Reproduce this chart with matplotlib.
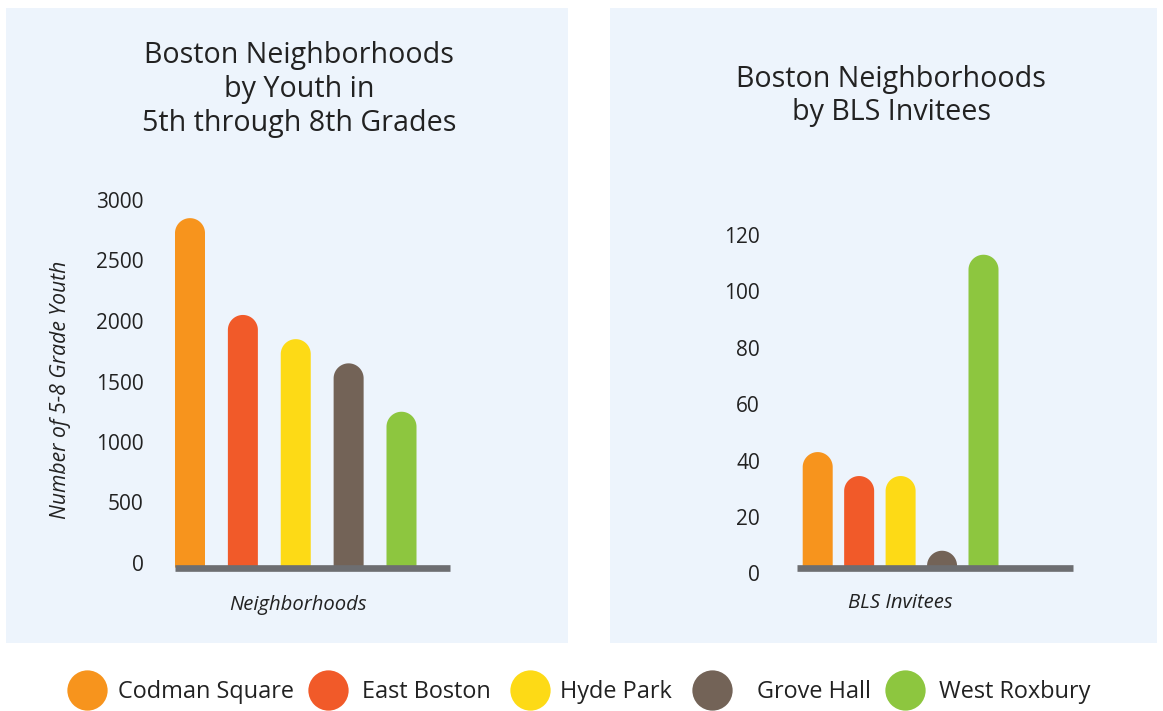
import matplotlib
matplotlib.use("Agg")
import numpy as np
import matplotlib.pyplot as plt
from matplotlib.patches import Rectangle, PathPatch
from matplotlib.path import Path

# ---------------- data ----------------
neighborhoods = ["Codman Square", "East Boston", "Hyde Park", "Grove Hall", "West Roxbury"]
youth_counts = [2850, 2050, 1850, 1650, 1250]
bls_invitees = [43, 34.5, 34.5, 8, 113]
youth_ticks = [0, 500, 1000, 1500, 2000, 2500, 3000]
bls_ticks = [0, 20, 40, 60, 80, 100, 120]
colors = ["#F7941D", "#F15A29", "#FDDA16", "#736357", "#8DC63F"]

W, H = 1163, 711
FONT = "Open Sans"
TXT = "#222222"
PANEL = "#EDF4FC"
BASE = "#6D6E71"

fig = plt.figure(figsize=(W / 100, H / 100), dpi=100)
fig.patch.set_facecolor("white")


def rect_px(x0, y0, x1, y1):
    return [x0 / W, 1 - y1 / H, (x1 - x0) / W, (y1 - y0) / H]


# panel backgrounds
for (x0, y0, x1, y1) in [(6, 8, 568, 643), (610, 8, 1157, 643)]:
    fig.patches.append(Rectangle((x0 / W, 1 - y1 / H), (x1 - x0) / W, (y1 - y0) / H,
                                 transform=fig.transFigure, facecolor=PANEL,
                                 edgecolor="none", zorder=-10))


def rounded_bars(ax, values, width, base_off_px, r_px=15):
    fig.canvas.draw()
    y0, y1 = ax.get_ylim()
    ppu = ax.bbox.height / (y1 - y0)
    r = r_px / ppu
    bottom = -base_off_px / ppu
    t = np.linspace(0, np.pi, 60)
    for i, (v, c) in enumerate(zip(values, colors)):
        cy = v - r
        hw = width / 2
        xs = np.concatenate([[i - hw], i + hw * np.cos(t[::-1]), [i + hw, i - hw]])
        ys = np.concatenate([[bottom], cy + r * np.sin(t[::-1]), [bottom, bottom]])
        # path: bottom-left -> up left side -> arc -> down right side -> close
        verts = np.column_stack([xs, ys])
        codes = [Path.MOVETO] + [Path.LINETO] * (len(verts) - 2) + [Path.CLOSEPOLY]
        patch = PathPatch(Path(verts, codes), facecolor=c, edgecolor="none",
                          clip_on=False, zorder=2, snap=False)
        ax.add_patch(patch)
    ax.plot([0, 1], [bottom, bottom], transform=ax.get_yaxis_transform(),
            color=BASE, lw=4.8, solid_capstyle="butt", clip_on=False, zorder=3)


def style_axis(ax, ticks, pad):
    ax.set_facecolor("none")
    for s in ax.spines.values():
        s.set_visible(False)
    ax.set_xticks([])
    ax.set_yticks(ticks)
    ax.set_yticklabels([str(t) for t in ticks], fontfamily=FONT, fontsize=15, color=TXT)
    ax.tick_params(axis="y", length=0, pad=pad)


# left chart
ax1 = fig.add_axes(rect_px(175, 200, 450, 563), zorder=2)
ax1.set_ylim(youth_ticks[0], youth_ticks[-1])
sp1 = (401.5 - 190) / 4
ax1.set_xlim((175 - 190) / sp1, (450 - 190) / sp1)
style_axis(ax1, youth_ticks, 22.5)
rounded_bars(ax1, youth_counts, 30 / sp1, 4.6)

# right chart
ax2 = fig.add_axes(rect_px(797, 235, 1073, 573.3), zorder=2)
ax2.set_ylim(bls_ticks[0], bls_ticks[-1])
sp2 = (983.5 - 817.7) / 4
ax2.set_xlim((797 - 817.7) / sp2, (1073 - 817.7) / sp2)
style_axis(ax2, bls_ticks, 26.6)
rounded_bars(ax2, bls_invitees, 30 / sp2, -5.6)


def ftext(x, y, s, **kw):
    kw.setdefault("fontfamily", FONT)
    kw.setdefault("color", TXT)
    fig.text(x / W, 1 - y / H, s, **kw)


# titles
for y, s in [(63.5, "Boston Neighborhoods"), (97, "by Youth in"), (130.5, "5th through 8th Grades")]:
    ftext(299, y, s, fontsize=20.6, ha="center", va="baseline")
for y, s in [(86.7, "Boston Neighborhoods"), (120, "by BLS Invitees")]:
    ftext(891, y, s, fontsize=20.6, ha="center", va="baseline")

# axis labels
ftext(298, 610, "Neighborhoods", fontsize=14.6, style="italic", ha="center", va="baseline")
ftext(900, 608.5, "BLS Invitees", fontsize=14.6, style="italic", ha="center", va="baseline")
ftext(66, 390, "Number of 5-8 Grade Youth", fontsize=15.2, style="italic", rotation=90,
      rotation_mode="anchor", ha="center", va="baseline")

# legend
leg = fig.add_axes([0, 0, 1, 1], zorder=5)
leg.set_xlim(0, W)
leg.set_ylim(H, 0)
leg.axis("off")
circle_x = [87, 328, 530, 712, 905]
text_x = [118, 362, 560, 757, 939]
for cx, tx, c, name in zip(circle_x, text_x, colors, neighborhoods):
    leg.plot([cx], [690], marker="o", ms=29, mfc=c, mec="none", ls="none", clip_on=False)
    leg.text(tx, 698.3, name, fontfamily=FONT, fontsize=16.9, color=TXT, ha="left", va="baseline")

fig.savefig("out.png", dpi=100)
